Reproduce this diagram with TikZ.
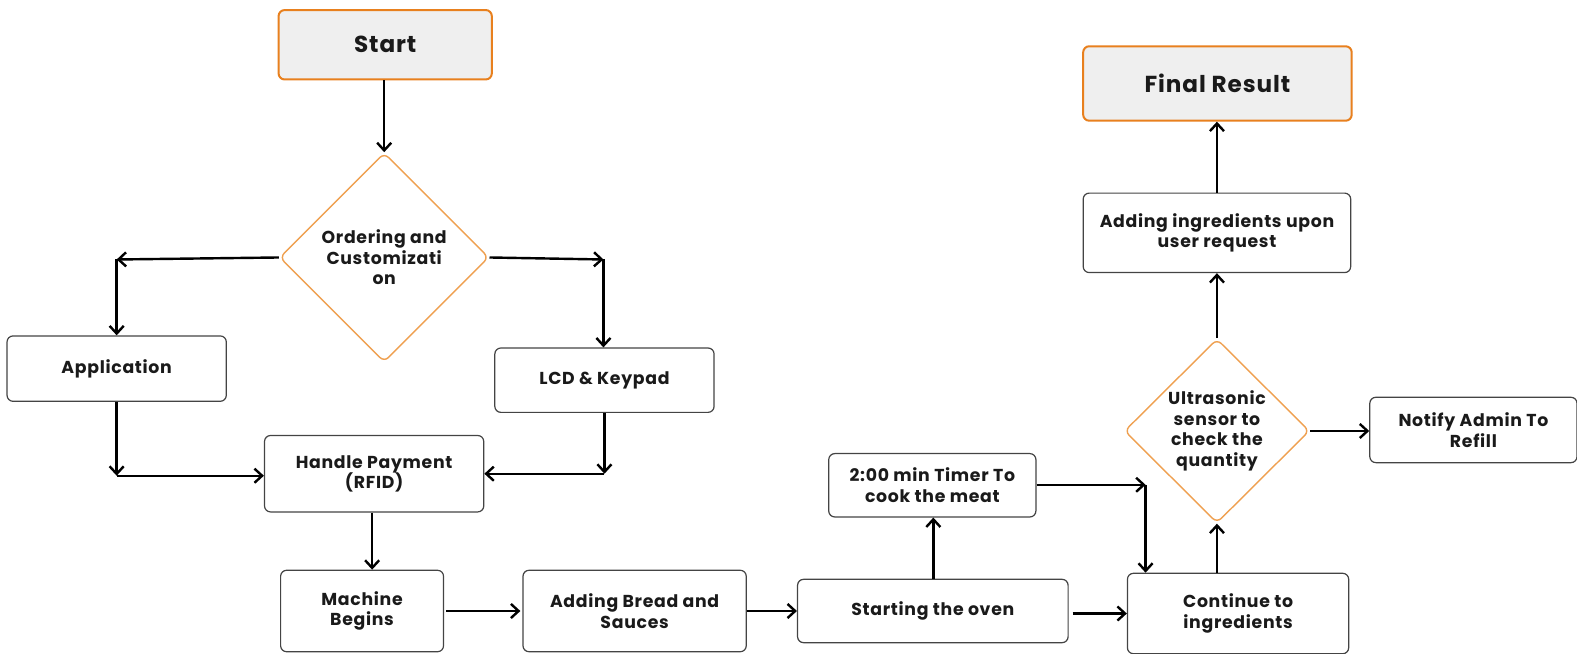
\documentclass[tikz,border=0pt]{standalone}
\usepackage{fontspec}
\setmainfont{Poppins}[LetterSpace=4]
\usetikzlibrary{shapes.geometric,arrows.meta}
\definecolor{orng}{HTML}{E8801E}
\definecolor{orngl}{HTML}{EFA050}
\definecolor{gry}{HTML}{EFEFEF}
\definecolor{txt}{HTML}{1A1A1A}
\definecolor{brd}{HTML}{444444}
\begin{document}
\begin{tikzpicture}[x=0.5pt,y=-0.5pt,
  font=\bfseries\fontsize{8.6}{10.2}\selectfont, text=txt,
  pbox/.style={draw=brd, line width=0.6pt, rounded corners=3pt, align=center, inner sep=0pt, fill=white},
  tbox/.style={draw=orng, line width=1pt, rounded corners=3pt, fill=gry, align=center, inner sep=0pt, font=\bfseries\fontsize{11.5}{13}\selectfont},
  dbox/.style={diamond, draw=orngl, line width=0.7pt, rounded corners=3pt, inner sep=0pt, fill=white},
  arr/.style={line width=1.2pt, -{Straight Barb[length=3.8pt,width=7pt,line width=1.2pt]}, black}
]
\useasboundingbox (0,0) rectangle (1568,650);
\node[tbox, minimum width=106pt, minimum height=34.5pt] (start) at (383,44.5) {Start};
\node[tbox, minimum width=133.5pt, minimum height=37pt] (final) at (1210.5,83) {Final Result};
\node[dbox, minimum width=104pt, minimum height=104pt, label={[align=center]center:Ordering and\\Customizati\\on}] (order) at (382,256) {};
\node[pbox, minimum width=109pt, minimum height=32.5pt] (app) at (116,366.5) {Application};
\node[pbox, minimum width=109pt, minimum height=32pt] (lcd) at (601,378) {LCD \& Keypad};
\node[pbox, minimum width=109pt, minimum height=38pt] (pay) at (372,471) {Handle Payment\\(RFID)};
\node[pbox, minimum width=81pt, minimum height=40.5pt] (mach) at (360,607.5) {Machine\\Begins};
\node[pbox, minimum width=111pt, minimum height=40.5pt] (bread) at (631,607.5) {Adding Bread and\\Sauces};
\node[pbox, minimum width=134.5pt, minimum height=31.5pt] (oven) at (927.5,607.5) {Starting the oven};
\node[pbox, minimum width=103pt, minimum height=31.5pt] (timer) at (927,482.5) {2:00 min Timer To\\cook the meat};
\node[pbox, minimum width=110pt, minimum height=40pt] (cont) at (1231,610) {Continue to\\ingredients};
\node[dbox, minimum width=92pt, minimum height=91.5pt, label={[align=center]center:Ultrasonic\\sensor to\\check the\\quantity}] (ultra) at (1210,428.5) {};
\node[pbox, minimum width=103pt, minimum height=32.5pt] (notify) at (1465,427.5) {Notify Admin To\\Refill};
\node[pbox, minimum width=133pt, minimum height=39.5pt] (addi) at (1210,231.5) {Adding ingredients upon\\user request};
\coordinate (c1) at (116,258);
\coordinate (c2) at (600,258);
\coordinate (c3) at (116,473);
\coordinate (c4) at (601,471);
\coordinate (c5) at (1139,482);
% connectors
\draw[arr] (start.south -| order.north) -- (order.north);
\draw[arr] (order.west) -- (c1);
\draw[arr] (c1) -- (app.north -| c1);
\draw[arr] (order.east) -- (c2);
\draw[arr] (c2) -- (lcd.north -| c2);
\draw[arr] (app.south -| c3) -- (c3);
\draw[arr] (c3) -- (pay.west |- c3);
\draw[arr] (lcd.south -| c4) -- (c4);
\draw[arr] (c4) -- (pay.east |- c4);
\draw[arr] (pay.south -| 370,0) -- (mach.north -| 370,0);
\draw[arr] ([xshift=1pt]mach.east) -- ([xshift=-1pt]bread.west);
\draw[arr] (bread.east) -- (oven.west |- bread.east);
\draw[arr] (oven.north -| 928,0) -- (timer.south -| 928,0);
\draw[arr] ([xshift=2pt]oven.east |- 0,610) -- (cont.west |- 0,610);
\draw[arr] (timer.east |- c5) -- (c5);
\draw[arr] (c5) -- (cont.north -| c5);
\draw[arr] (cont.north -| ultra.south) -- (ultra.south);
\draw[arr] (ultra.east) -- (notify.west |- ultra.east);
\draw[arr] (ultra.north) -- (addi.south -| ultra.north);
\draw[arr] (addi.north) -- (final.south -| addi.north);
\end{tikzpicture}
\end{document}
